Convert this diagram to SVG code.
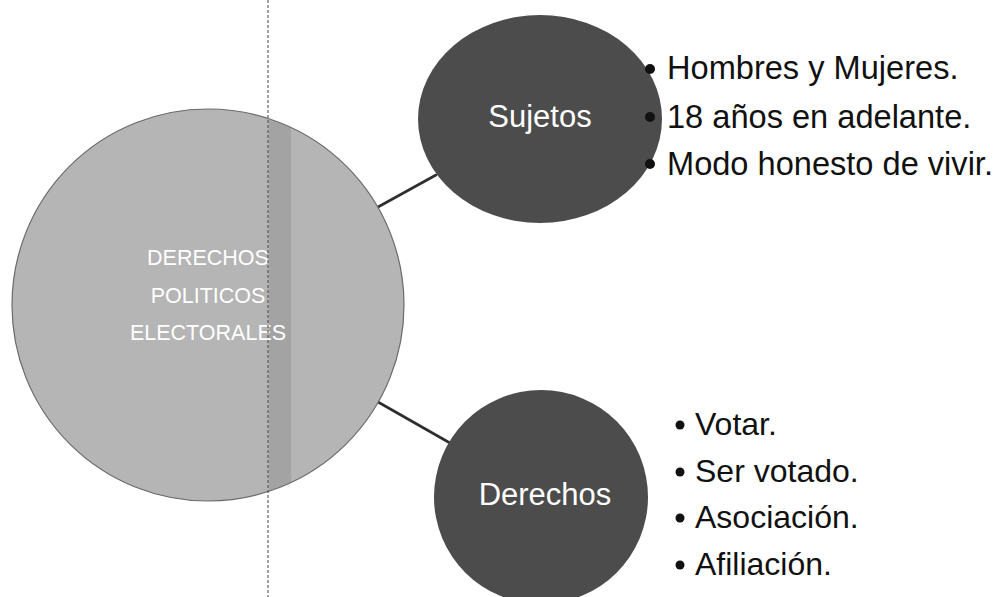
<svg xmlns="http://www.w3.org/2000/svg" width="1003" height="597" viewBox="0 0 1003 597">
  <style>
    .main { fill: #b5b5b5; stroke: #6a6a6a; stroke-width: 1.2; }
    .sub { fill: #4c4c4c; }
    .conn { stroke: #2e2e2e; stroke-width: 2.6; stroke-linecap: round; fill: none; }
    .lbl { font-family: "Liberation Sans", Arial, sans-serif; fill: #ffffff; text-anchor: middle; }
    .list { font-family: "Liberation Sans", Arial, sans-serif; font-size: 32px; fill: #111111; }
    .list-s { font-size: 32.6px; }
    .bul { fill: #111111; }
    .scan { stroke: #444444; stroke-width: 1; stroke-dasharray: 3 2; }
  </style>
  <defs>
    <clipPath id="bigClip">
      <circle cx="208" cy="305" r="196"/>
    </clipPath>
  </defs>
  <rect x="0" y="0" width="1003" height="597" fill="#ffffff"/>

  <g id="connectors">
    <line class="conn" x1="378" y1="207" x2="436" y2="175"/>
    <line class="conn" x1="378" y1="402" x2="450" y2="443"/>
  </g>

  <g id="node-derechos-politicos">
    <circle class="main" cx="208" cy="305" r="196"/>
    <rect x="269" y="100" width="22" height="410" fill="#808080" opacity="0.35" clip-path="url(#bigClip)"/>
    <text class="lbl" x="208" y="265" font-size="21.5">DERECHOS</text>
    <text class="lbl" x="208" y="303" font-size="21.5">POLITICOS</text>
    <text class="lbl" x="208" y="340" font-size="21.5">ELECTORALES</text>
  </g>

  <g id="node-sujetos">
    <ellipse class="sub" cx="540" cy="119" rx="122" ry="104"/>
    <text class="lbl" x="540" y="127" font-size="31">Sujetos</text>
  </g>

  <g id="list-sujetos">
    <circle class="bul" cx="650" cy="69" r="5"/>
    <circle class="bul" cx="650" cy="117" r="5"/>
    <circle class="bul" cx="650" cy="164" r="5"/>
    <text class="list list-s" x="667" y="79">Hombres y Mujeres.</text>
    <text class="list list-s" x="667" y="127.5">18 años en adelante.</text>
    <text class="list list-s" x="667" y="175">Modo honesto de vivir.</text>
  </g>

  <g id="node-derechos">
    <circle class="sub" cx="541" cy="497" r="107"/>
    <text class="lbl" x="545" y="505" font-size="31">Derechos</text>
  </g>

  <g id="list-derechos">
    <circle class="bul" cx="680" cy="425" r="4.5"/>
    <circle class="bul" cx="680" cy="472" r="4.5"/>
    <circle class="bul" cx="680" cy="518" r="4.5"/>
    <circle class="bul" cx="680" cy="565" r="4.5"/>
    <text class="list" x="695" y="435">Votar.</text>
    <text class="list" x="695" y="482">Ser votado.</text>
    <text class="list" x="695" y="528">Asociación.</text>
    <text class="list" x="695" y="575">Afiliación.</text>
  </g>

  <line class="scan" x1="268" y1="0" x2="268" y2="597"/>
</svg>
